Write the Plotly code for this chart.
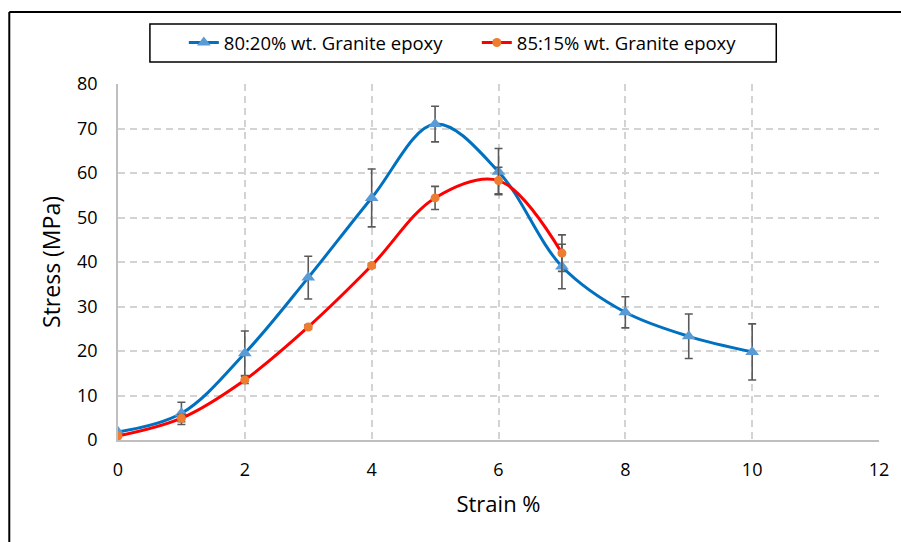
import plotly.graph_objects as go

# Data
strain_a = [0, 1, 2, 3, 4, 5, 6, 7, 8, 9, 10]
stress_a = [1.8, 6.0, 19.5, 36.5, 54.4, 71.0, 60.3, 39.0, 28.7, 23.3, 19.8]
err_a = [0.0, 2.5, 5.0, 4.8, 6.5, 4.0, 5.2, 5.0, 3.5, 5.0, 6.3]

strain_b = [0, 1, 2, 3, 4, 5, 6, 7]
stress_b = [0.9, 4.9, 13.5, 25.4, 39.2, 54.4, 58.3, 42.0]
err_b = [0.0, 0.8, 0.8, 0.5, 0.5, 2.6, 3.0, 4.1]

name_a = "80:20% wt. Granite epoxy"
name_b = "85:15% wt. Granite epoxy"

x_ticks = [0, 2, 4, 6, 8, 10, 12]
y_ticks = [0, 10, 20, 30, 40, 50, 60, 70, 80]

FONT = "Open Sans"
ERR_COL = "#595959"

fig = go.Figure()
fig.add_trace(go.Scatter(
    x=strain_a, y=stress_a, name=name_a, mode="lines+markers",
    line=dict(color="#0070C0", width=3, shape="spline", smoothing=1.0),
    marker=dict(symbol="triangle-up", size=12, color="#5B9BD5"),
    error_y=dict(type="data", array=err_a, visible=True, color=ERR_COL,
                 thickness=1.6, width=4),
))
fig.add_trace(go.Scatter(
    x=strain_b, y=stress_b, name=name_b, mode="lines+markers",
    line=dict(color="#FF0000", width=3, shape="spline", smoothing=1.0),
    marker=dict(symbol="circle", size=9, color="#ED7D31"),
    error_y=dict(type="data", array=err_b, visible=True, color=ERR_COL,
                 thickness=1.6, width=4),
))

# body margin removed via post_script, so figure pixels == screen pixels
W, H = 901, 542
L, T = 118, 84
pw, ph = 763, 356
R = W - L - pw
B = H - T - ph

def px_x(p):
    return (p - L) / pw

def px_y(p):
    return (T + ph - p) / ph

grid = dict(showgrid=True, gridcolor="#D3D3D3", gridwidth=1.5, griddash="7px,5px")

fig.update_layout(
    width=W, height=H,
    margin=dict(l=L, r=R, t=T, b=B),
    paper_bgcolor="white", plot_bgcolor="white",
    font=dict(family=FONT, color="#000000"),
    showlegend=True,
    legend=dict(orientation="h", x=px_x(184), xanchor="left",
                y=px_y(43), yanchor="middle",
                font=dict(family=FONT, size=18.5, color="#000000"),
                bgcolor="rgba(0,0,0,0)", entrywidth=248, traceorder="normal"),
    xaxis=dict(range=[0, 12], tickvals=x_ticks, ticktext=[str(v) for v in x_ticks],
               showline=True, linecolor="#BFBFBF", linewidth=1.5, zeroline=False,
               ticks="", tickfont=dict(family=FONT, size=18, color="#000000"),
               ticklabelstandoff=13,
               title=dict(text="Strain %", font=dict(family=FONT, size=22, color="#000000"),
                          standoff=16),
               **grid),
    yaxis=dict(range=[0, 80], tickvals=y_ticks, ticktext=[str(v) for v in y_ticks],
               showline=True, linecolor="#BFBFBF", linewidth=1.5, zeroline=False,
               ticks="", tickfont=dict(family=FONT, size=18, color="#000000"),
               ticklabelstandoff=15,
               title=dict(text="Stress (MPa)", font=dict(family=FONT, size=23, color="#000000"),
                          standoff=10),
               **grid),
    shapes=[
        # legend box
        dict(type="rect", xref="paper", yref="paper",
             x0=px_x(150), x1=px_x(778), y0=px_y(62), y1=px_y(24),
             line=dict(color="#000000", width=1.5), fillcolor="rgba(0,0,0,0)", layer="below"),
        # outer frame (top and left edges)
        dict(type="line", xref="paper", yref="paper",
             x0=px_x(9), x1=px_x(905), y0=px_y(12), y1=px_y(12),
             line=dict(color="#000000", width=2)),
        dict(type="line", xref="paper", yref="paper",
             x0=px_x(9), x1=px_x(9), y0=px_y(12), y1=px_y(546),
             line=dict(color="#000000", width=2)),
    ],
)

fig.write_html(
    "out.html",
    config={"displayModeBar": False},
    post_script="document.body.style.margin='0';document.body.style.overflow='hidden';",
)
